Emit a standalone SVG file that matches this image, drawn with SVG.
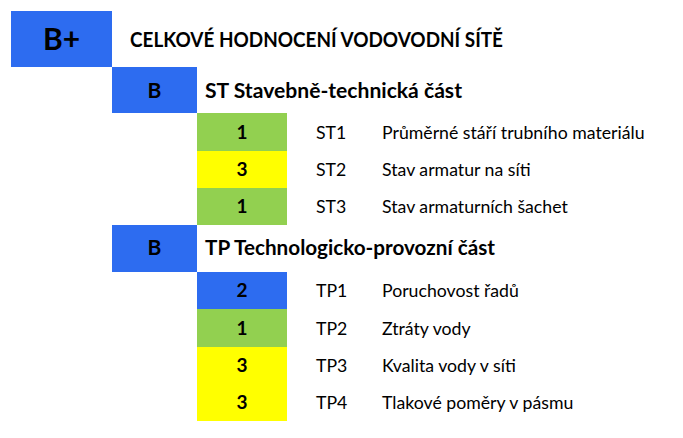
<svg xmlns="http://www.w3.org/2000/svg" width="683" height="438" viewBox="0 0 683 438">
<style>
.blue{fill:#2D6CF0}
.green{fill:#92D050}
.yellow{fill:#FFFF00}
text{font-family:Lato,"Liberation Sans",sans-serif;fill:#000}
.big{font-size:30px;font-weight:bold;text-anchor:middle}
.h{font-size:20px;font-weight:bold}
.num{font-size:19px;font-weight:bold;text-anchor:middle}
.bb{font-size:21px;font-weight:bold;text-anchor:middle}
.lab{font-size:17.7px}
</style>
<rect width="683" height="438" fill="#fff"/>
<g id="total">
<rect class="blue" x="11" y="11" width="101" height="56"/>
<text class="big" x="61.5" y="50">B+</text>
<text class="h" x="130" y="47" textLength="373" lengthAdjust="spacingAndGlyphs">CELKOVÉ HODNOCENÍ VODOVODNÍ SÍTĚ</text>
</g>
<g id="ST">
<rect class="blue" x="112" y="67" width="85" height="46"/>
<text class="bb" x="154.5" y="98">B</text>
<text class="h" x="205" y="98" textLength="257" lengthAdjust="spacingAndGlyphs">ST Stavebně-technická část</text>
</g>
<g id="ST1">
<rect class="green" x="197" y="113" width="90" height="38"/>
<text class="num" x="242" y="139">1</text>
<text class="lab" x="316" y="139">ST1</text>
<text class="lab" x="382" y="139">Průměrné stáří trubního materiálu</text>
</g>
<g id="ST2">
<rect class="yellow" x="197" y="151" width="90" height="37"/>
<text class="num" x="242" y="176">3</text>
<text class="lab" x="316" y="176">ST2</text>
<text class="lab" x="382" y="176">Stav armatur na síti</text>
</g>
<g id="ST3">
<rect class="green" x="197" y="188" width="90" height="37"/>
<text class="num" x="242" y="213">1</text>
<text class="lab" x="316" y="213">ST3</text>
<text class="lab" x="382" y="213">Stav armaturních šachet</text>
</g>
<g id="TP">
<rect class="blue" x="112" y="225" width="85" height="47"/>
<text class="bb" x="154.5" y="255">B</text>
<text class="h" x="205" y="255" textLength="290" lengthAdjust="spacingAndGlyphs">TP Technologicko-provozní část</text>
</g>
<g id="TP1">
<rect class="blue" x="197" y="272" width="90" height="37"/>
<text class="num" x="242" y="297">2</text>
<text class="lab" x="316" y="297">TP1</text>
<text class="lab" x="382" y="297">Poruchovost řadů</text>
</g>
<g id="TP2">
<rect class="green" x="197" y="309" width="90" height="38"/>
<text class="num" x="242" y="334.5">1</text>
<text class="lab" x="316" y="334.5">TP2</text>
<text class="lab" x="382" y="334.5">Ztráty vody</text>
</g>
<g id="TP3">
<rect class="yellow" x="197" y="347" width="90" height="37"/>
<text class="num" x="242" y="372">3</text>
<text class="lab" x="316" y="372">TP3</text>
<text class="lab" x="382" y="372">Kvalita vody v síti</text>
</g>
<g id="TP4">
<rect class="yellow" x="197" y="384" width="90" height="37"/>
<text class="num" x="242" y="409">3</text>
<text class="lab" x="316" y="409">TP4</text>
<text class="lab" x="382" y="409">Tlakové poměry v pásmu</text>
</g>
<g id="connectors"/>
</svg>
